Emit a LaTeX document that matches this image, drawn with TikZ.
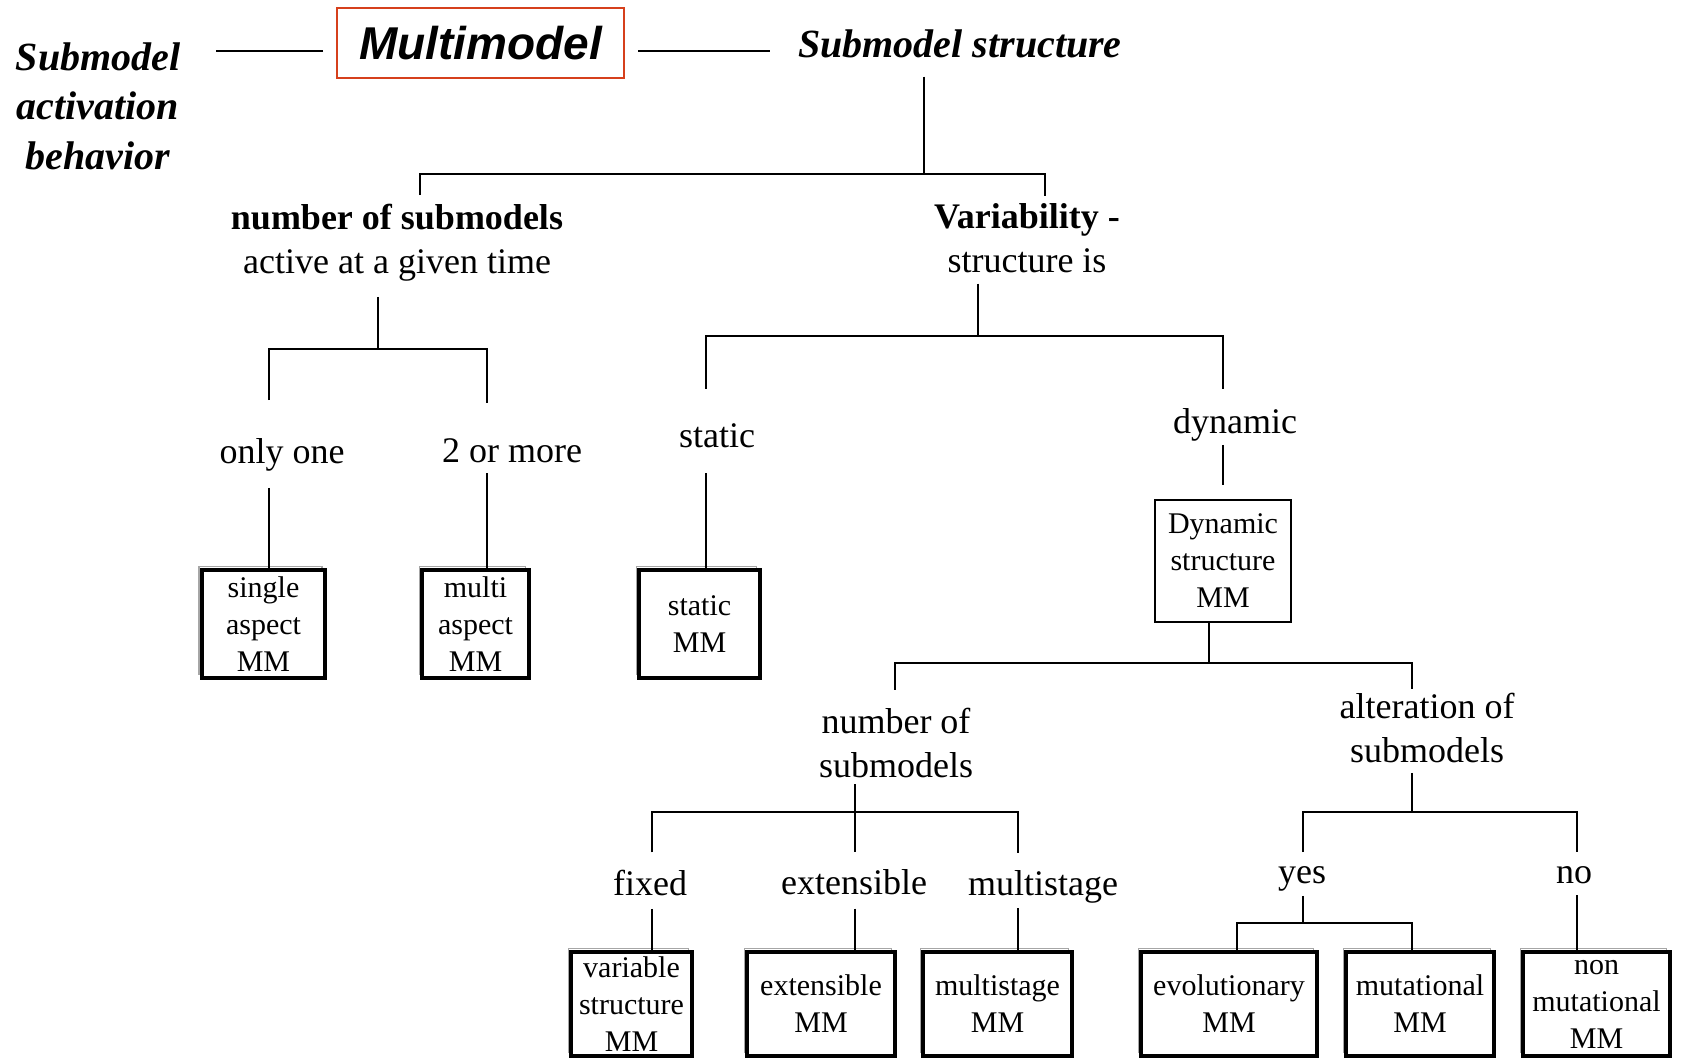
\documentclass[tikz,border=0pt]{standalone}
\usepackage{fontspec}
\setmainfont{Liberation Serif}
\newfontfamily\mmfont{Liberation Sans}
\usepackage{tikz}
\definecolor{mmred}{RGB}{214,64,28}
\newcommand{\bodysize}{\fontsize{18}{22}\selectfont}
\newcommand{\boxtext}{\fontsize{15}{18.5}\selectfont}
\newcommand{\headsize}{\fontsize{20}{24.7}\selectfont}
\tikzset{
    lbl/.style={inner sep=0pt, align=center, font=\bodysize},
    headlbl/.style={lbl, font=\headsize\bfseries\itshape},
    mmhead/.style={draw=mmred, line width=1pt, minimum width=143.5pt, minimum height=35pt,
        font=\mmfont\fontsize{23}{26}\selectfont\bfseries\itshape},
    plainbox/.style={draw, line width=1pt, inner sep=0pt, align=center, font=\boxtext, fill=white},
    mmbox/.style={plainbox, line width=2.2pt,
        preaction={draw=black!35, line width=.6pt, transform canvas={shift={(-1.5pt,1.8pt)}}}},
    link/.style={line width=1pt}
}

\begin{document}
\begin{tikzpicture}[x=0.5pt, y=-0.5pt]
    \useasboundingbox (0,0) rectangle (1681,1060);

    % top row
    \node[headlbl] (actlbl) at (98,106) {Submodel\\activation\\behavior};
    \node[mmhead] (mm) at (480.5,43) {Multimodel};
    \node[headlbl] (sstruct) at (960,44) {Submodel structure};
    \draw[link, shorten <=6.5pt, shorten >=17.5pt] ([yshift=-4pt]mm.west) -- ([yshift=-4pt]mm.west -| actlbl.east);
    \draw[link, shorten <=6.5pt, shorten >=14pt] ([yshift=-4pt]mm.east) -- ([yshift=-4pt]mm.east -| sstruct.west);

    % first split
    \node[lbl] (numsub) at (397,243) {\textbf{number of submodels}\\active at a given time};
    \node[lbl] (vari) at (1027,238.5) {\textbf{Variability -}\\structure is};
    \coordinate (s0) at (924,174);
    \coordinate (s1) at (420,174);
    \coordinate (s2) at (1045,174);
    \draw[link, shorten <=9pt] (s0 |- sstruct.south) -- (s0);
    \draw[link, shorten <=4.5pt, shorten >=3.5pt] (s1 |- numsub.north) -- (s1) -- (s2) -- (s2 |- vari.north);

    % submodels active at a time
    \node[lbl] (onlyone) at (282,455) {only one};
    \node[lbl] (twomore) at (512,451) {2 or more};
    \node[mmbox, minimum width=61.5pt, minimum height=54pt] (single) at (263.5,624) {single\\aspect\\MM};
    \node[mmbox, minimum width=53.3pt, minimum height=54pt] (multi) at (475.5,624) {multi\\aspect\\MM};
    \coordinate (n0) at (378,349);
    \coordinate (n1) at (269,349);
    \coordinate (n2) at (487,349);
    \draw[link, shorten <=7.5pt] (n0 |- numsub.south) -- (n0);
    \draw[link, shorten <=19pt, shorten >=18pt] (n1 |- onlyone.north) -- (n1) -- (n2) -- (n2 |- twomore.north);
    \draw[link, shorten <=8pt] (n1 |- onlyone.south) -- (n1 |- single.north);
    \draw[link, shorten <=5pt] (n2 |- twomore.south) -- (n2 |- multi.north);

    % variability
    \node[lbl] (statlbl) at (717,436) {static};
    \node[lbl] (dynlbl) at (1235,425) {dynamic};
    \node[mmbox, minimum width=60.3pt, minimum height=54pt] (statbox) at (699.5,624) {static\\MM};
    \node[plainbox, minimum width=68pt, minimum height=61pt] (dynbox) at (1223,561) {Dynamic\\structure\\MM};
    \coordinate (v0) at (978,336);
    \coordinate (v1) at (706,336);
    \coordinate (v2) at (1223,336);
    \draw[link, shorten <=5pt] (v0 |- vari.south) -- (v0);
    \draw[link, shorten <=17.5pt, shorten >=9.5pt] (v1 |- statlbl.north) -- (v1) -- (v2) -- (v2 |- dynlbl.north);
    \draw[link, shorten <=12.5pt] (v1 |- statlbl.south) -- (v1 |- statbox.north);
    \draw[link, shorten <=1.5pt, shorten >=7pt] (v2 |- dynlbl.south) -- (v2 |- dynbox.north);

    % dynamic structure
    \node[lbl] (numsub2) at (896,743) {number of\\submodels};
    \node[lbl] (alter) at (1427,727.5) {alteration of\\submodels};
    \coordinate (d0) at (1209,663);
    \coordinate (d1) at (895,663);
    \coordinate (d2) at (1412,663);
    \draw[link] (d0 |- dynbox.south) -- (d0);
    \draw[link, shorten <=9pt, shorten >=1.5pt] (d1 |- numsub2.north) -- (d1) -- (d2) -- (d2 |- alter.north);

    % number of submodels
    \node[lbl] (fixlbl) at (650,882.5) {fixed};
    \node[lbl] (extlbl) at (854,882.5) {extensible};
    \node[lbl] (multlbl) at (1043,886.5) {multistage};
    \node[mmbox, minimum width=60.3pt, minimum height=51.8pt] (varmm) at (631.5,1004) {variable\\structure\\MM};
    \node[mmbox, minimum width=73.8pt, minimum height=51.8pt] (extmm) at (821,1004) {extensible\\MM};
    \node[mmbox, minimum width=74.3pt, minimum height=51.8pt] (multmm) at (997.5,1004) {multistage\\MM};
    \coordinate (m0) at (855,812);
    \coordinate (m1) at (652,812);
    \coordinate (m2) at (1018,812);
    \draw[link, shorten <=3pt, shorten >=8.5pt] (m0 |- numsub2.south) -- (m0 |- extlbl.north);
    \draw[link, shorten <=8.5pt, shorten >=8.5pt] (m1 |- fixlbl.north) -- (m1) -- (m2) -- (m2 |- multlbl.north);
    \draw[link, shorten <=6.5pt] (m1 |- fixlbl.south) -- (m1 |- varmm.north);
    \draw[link, shorten <=6.5pt] (m0 |- extlbl.south) -- (m0 |- extmm.north);
    \draw[link, shorten <=2.5pt] (m2 |- multlbl.south) -- (m2 |- multmm.north);

    % alteration of submodels
    \node[lbl] (yeslbl) at (1302,879) {yes};
    \node[lbl] (nolbl) at (1574,875) {no};
    \node[mmbox, minimum width=87.8pt, minimum height=51.8pt] (evolmm) at (1229,1004) {evolutionary\\MM};
    \node[mmbox, minimum width=73.8pt, minimum height=51.8pt] (mutmm) at (1420,1004) {mutational\\MM};
    \node[mmbox, minimum width=73.3pt, minimum height=51.8pt] (nonmm) at (1596.5,1004) {non\\mutational\\MM};
    \coordinate (a0) at (1412,812);
    \coordinate (a1) at (1303,812);
    \coordinate (a2) at (1577,812);
    \coordinate (y0) at (1303,923);
    \coordinate (y1) at (1237,923);
    \coordinate (y2) at (1412,923);
    \draw[link, shorten <=5pt] (a0 |- alter.south) -- (a0);
    \draw[link, shorten <=7pt, shorten >=7pt] (a1 |- yeslbl.north) -- (a1) -- (a2) -- (a2 |- nolbl.north);
    \draw[link, shorten <=2pt] (y0 |- yeslbl.south) -- (y0);
    \draw[link] (y1 |- evolmm.north) -- (y1) -- (y2) -- (y2 |- mutmm.north);
    \draw[link, shorten <=5.5pt] (a2 |- nolbl.south) -- (a2 |- nonmm.north);
\end{tikzpicture}
\end{document}
